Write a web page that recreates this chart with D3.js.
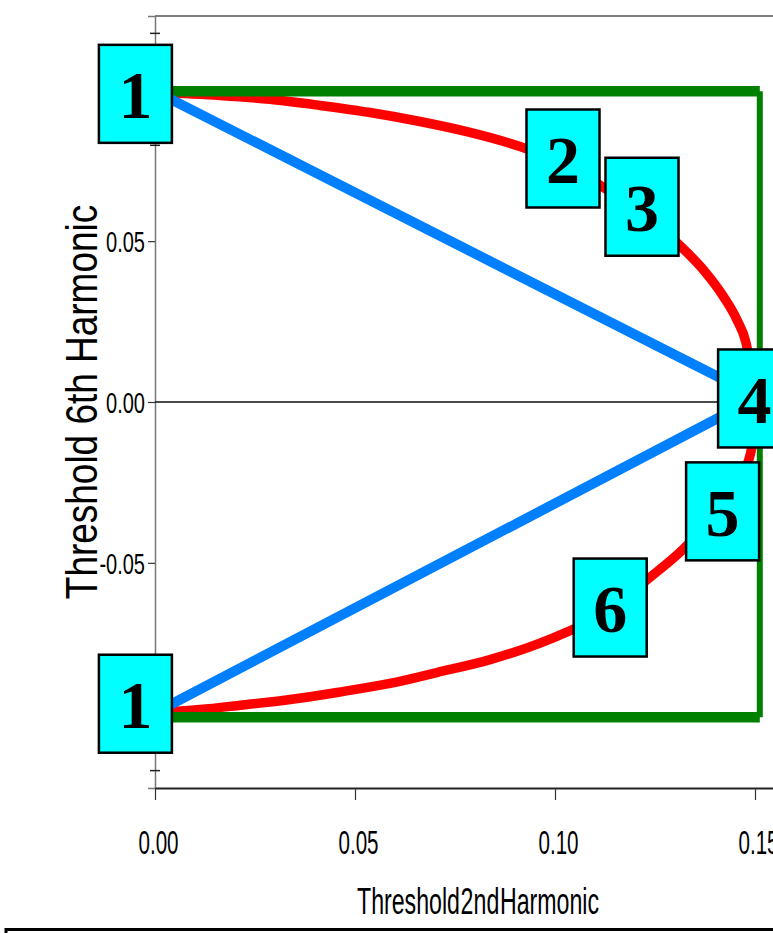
<!DOCTYPE html>
<html>
<head>
<meta charset="utf-8">
<script src="https://cdn.jsdelivr.net/npm/d3@7"></script>
<style>
  html, body { margin: 0; padding: 0; background: #fff; }
  svg { display: block; }
</style>
</head>
<body>
<svg id="chart" width="773" height="933"></svg>
<script>
// Axis ticks and labels
const xTickValues = [0, 0.05, 0.10, 0.15];
const xTickLabels = ["0.00", "0.05", "0.10", "0.15"];
const yTickValues = [0.05, 0, -0.05];
const yTickLabels = ["0.05", "0.00", "-0.05"];
const yCrossMarks = [0.1146, 0.0798, -0.0798, -0.1146];

// Outer threshold boundary (green rectangle)
const greenX = [0, 0.1512, 0.1512, 0];
const greenY = [0.0966, 0.0966, -0.098, -0.098];

// Red boundary, upper and lower branches
const redUpperX = [0, 0.01625, 0.02875, 0.04125, 0.05375, 0.06625, 0.07875, 0.09125, 0.10125,
                   0.11175, 0.12125, 0.131, 0.1375, 0.142, 0.1455, 0.14775, 0.149, 0.14975, 0.15];
const redUpperY = [0.0963, 0.0953, 0.0941, 0.0922, 0.0900, 0.0872, 0.0838, 0.0794, 0.0745,
                   0.0670, 0.0589, 0.0489, 0.0405, 0.0330, 0.0255, 0.0184, 0.0100, 0.0037, 0];
const redLowerX = [0, 0.01125, 0.0205, 0.03375, 0.0455, 0.05875, 0.0705, 0.08375, 0.098,
                   0.11125, 0.12375, 0.132, 0.14125, 0.1475, 0.1495, 0.15];
const redLowerY = [-0.0966, -0.0956, -0.0944, -0.0925, -0.0903, -0.0875, -0.0841, -0.0801, -0.0741,
                   -0.0664, -0.0545, -0.0458, -0.0330, -0.0212, -0.0118, 0];

// Blue straight boundaries
const blueUpperX = [0, 0.15];
const blueUpperY = [0.0966, 0.002];
const blueLowerX = [0, 0.15];
const blueLowerY = [-0.0966, 0.001];

// Numbered region markers
const markerText = ["1", "2", "3", "4", "5", "6", "1"];
const markerX = [-0.0049, 0.102, 0.12175, 0.1499, 0.1419, 0.1138, -0.0049];
const markerY = [0.0958, 0.0757, 0.0607, 0.0011, -0.034, -0.0639, -0.0938];

const xTitle = "Threshold 2nd Harmonic";
const yTitle = "Threshold 6th Harmonic";

const svg = d3.select("#chart");

const x = d3.scaleLinear().domain([0, 0.16]).range([155, 795]);
const y = d3.scaleLinear().domain([-0.12, 0.12]).range([788, 16]);

const pts = (xs, ys) => xs.map((v, i) => [x(v), y(ys[i])]);
const line = d3.line();
const smooth = d3.line().curve(d3.curveMonotoneX);

// condense text along its baseline by a factor
function condense(sel, f) {
  sel.each(function () {
    const w = this.getComputedTextLength();
    this.setAttribute("textLength", (w * f).toFixed(1));
    this.setAttribute("lengthAdjust", "spacingAndGlyphs");
  });
}

// frame: top edge
svg.append("line")
  .attr("x1", x(0)).attr("x2", x(0.16))
  .attr("y1", y(0.12)).attr("y2", y(0.12))
  .attr("stroke", "#555").attr("stroke-width", 1.5);

// y axis
const yAxis = d3.axisLeft(y)
  .tickValues(yTickValues)
  .tickSize(7)
  .tickFormat((d, i) => yTickLabels[i]);
const gy = svg.append("g").attr("transform", `translate(${x(0)},0)`).call(yAxis);
gy.select(".domain").attr("stroke", "#777").attr("stroke-width", 1.5);
gy.selectAll(".tick line").attr("stroke", "#333").attr("stroke-width", 1.2);
gy.selectAll(".tick text")
  .attr("font-family", "'Liberation Sans', Arial, sans-serif")
  .attr("font-size", 29)
  .attr("fill", "#000")
  .attr("x", -10)
  .attr("dy", "0.36em")
  .call(condense, 0.69);

// small cross marks on the y axis
svg.append("g").selectAll("line").data(yCrossMarks).join("line")
  .attr("x1", x(0) - 5).attr("x2", x(0) + 5)
  .attr("y1", d => y(d)).attr("y2", d => y(d))
  .attr("stroke", "#222").attr("stroke-width", 1.5);

// x axis
const xAxis = d3.axisBottom(x)
  .tickValues(xTickValues)
  .tickSize(12)
  .tickSizeOuter(0)
  .tickFormat((d, i) => xTickLabels[i]);
const gx = svg.append("g").attr("transform", `translate(0,${y(-0.12)})`).call(xAxis);
gx.select(".domain").attr("stroke", "#222").attr("stroke-width", 1.8);
gx.selectAll(".tick line").attr("stroke", "#333").attr("stroke-width", 1.2);
gx.selectAll(".tick text")
  .attr("font-family", "'Liberation Sans', Arial, sans-serif")
  .attr("font-size", 33)
  .attr("fill", "#000")
  .attr("y", 0).attr("dy", 66)
  .attr("dx", 3)
  .call(condense, 0.625);

// zero line
svg.append("line")
  .attr("x1", x(0)).attr("x2", x(0.15))
  .attr("y1", y(0)).attr("y2", y(0))
  .attr("stroke", "#111").attr("stroke-width", 1.6);

// red boundary, one smooth path per branch
[pts(redUpperX, redUpperY), pts(redLowerX, redLowerY)].forEach(p => {
  svg.append("path")
    .attr("d", smooth(p))
    .attr("fill", "none").attr("stroke", "#ff0000").attr("stroke-width", 9.5)
    .attr("stroke-linejoin", "round");
});

// green rectangle: horizontal sides heavier than the vertical side
const g = pts(greenX, greenY);
svg.append("path")
  .attr("d", line([g[0], g[1]]) + line([g[3], g[2]]))
  .attr("fill", "none").attr("stroke", "#008000").attr("stroke-width", 10.5);
svg.append("path")
  .attr("d", line([g[1], g[2]]))
  .attr("fill", "none").attr("stroke", "#008000").attr("stroke-width", 6);

// blue boundaries
[pts(blueUpperX, blueUpperY), pts(blueLowerX, blueLowerY)].forEach(p => {
  svg.append("path")
    .attr("d", line(p))
    .attr("fill", "none").attr("stroke", "#0080ff").attr("stroke-width", 10);
});

// numbered markers
const bw = 73, bh = 98;
const mk = svg.append("g").selectAll("g").data(markerText).join("g")
  .attr("transform", (d, i) => `translate(${x(markerX[i])},${y(markerY[i])})`);
mk.append("rect")
  .attr("x", -bw / 2).attr("y", -bh / 2).attr("width", bw).attr("height", bh)
  .attr("fill", "#00ffff").attr("stroke", "#000").attr("stroke-width", 2.5);
mk.append("text")
  .attr("text-anchor", "middle")
  .attr("y", 24.5)
  .attr("font-family", "'Liberation Serif', 'Times New Roman', serif")
  .attr("font-weight", "bold")
  .attr("font-size", 68)
  .attr("fill", "#000")
  .text(d => d);

// axis titles
svg.append("text")
  .attr("x", 478).attr("y", 914)
  .attr("text-anchor", "middle")
  .attr("font-family", "'Liberation Sans', Arial, sans-serif")
  .attr("font-size", 36)
  .attr("word-spacing", -9)
  .attr("fill", "#000")
  .attr("textLength", 242)
  .attr("lengthAdjust", "spacingAndGlyphs")
  .text(xTitle);

svg.append("text")
  .attr("transform", "translate(97,402) rotate(-90)")
  .attr("text-anchor", "middle")
  .attr("font-family", "'Liberation Sans', Arial, sans-serif")
  .attr("font-size", 44)
  .attr("fill", "#000")
  .text(yTitle)
  .call(condense, 0.84);

// enclosing box below the titles
svg.append("rect")
  .attr("x", 6).attr("y", 929.5).attr("width", 800).attr("height", 40)
  .attr("fill", "none").attr("stroke", "#000").attr("stroke-width", 3);
</script>
</body>
</html>
